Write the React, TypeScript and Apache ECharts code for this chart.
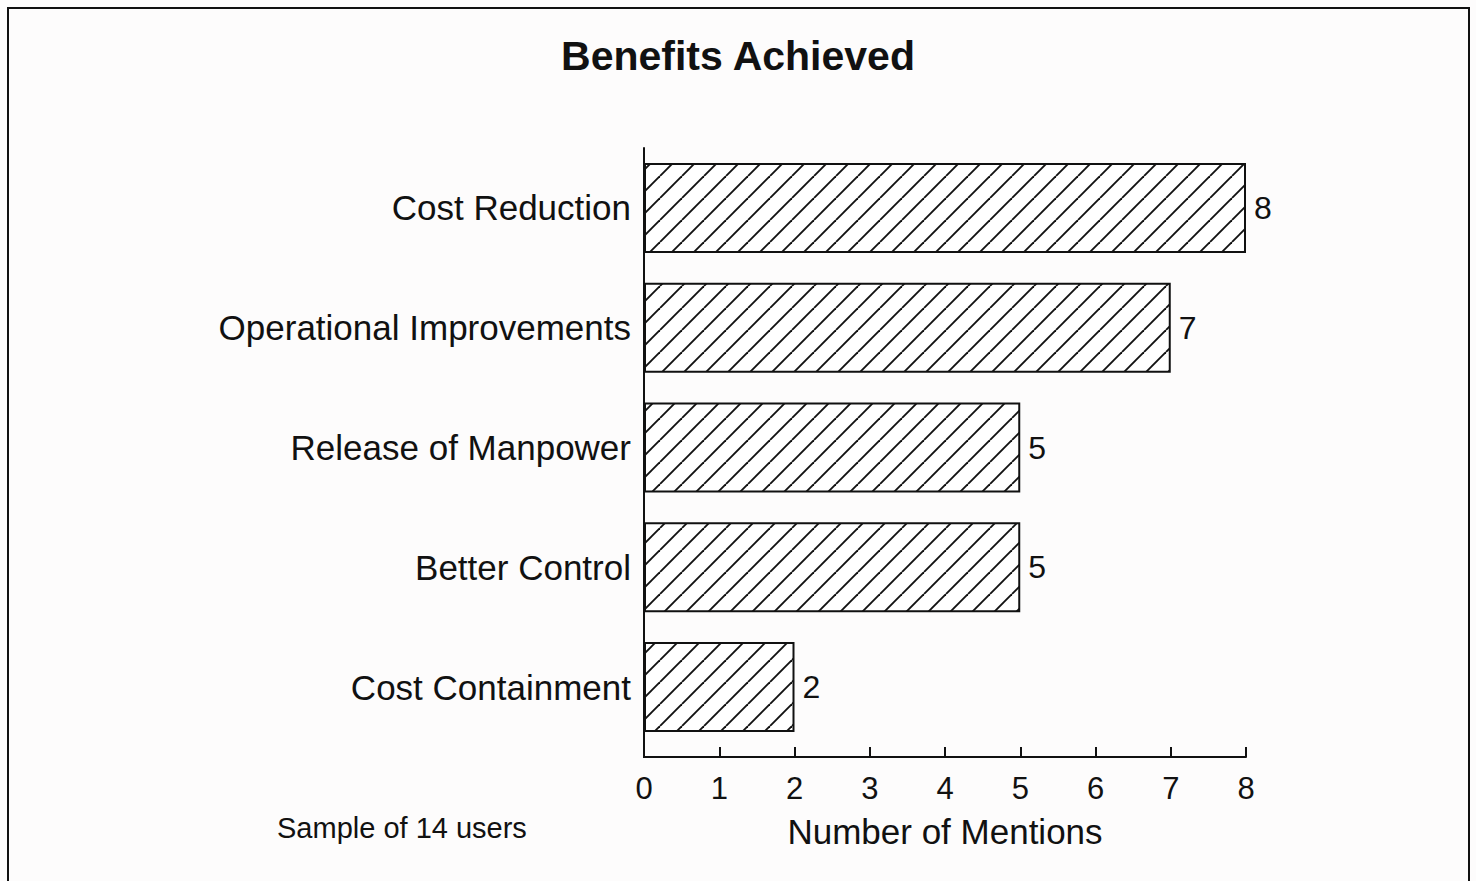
import React, { useEffect, useRef } from "react";
import * as echarts from "echarts";

const categories = [
  "Cost Reduction",
  "Operational Improvements",
  "Release of Manpower",
  "Better Control",
  "Cost Containment",
];
const mentions = [8, 7, 5, 5, 2];
const xTicks = { min: 0, max: 8, interval: 1 };
const titleText = "Benefits Achieved";
const xName = "Number of Mentions";
const noteText = "Sample of 14 users";

const W = 1476;
const H = 881;
const GRID_LEFT = 644;
const GRID_RIGHT = 230;
const GRID_TOP = 148;
const GRID_BOTTOM = 134;
const AXIS_OFFSET = 10;
const FONT = "'Liberation Sans', Arial, Helvetica, sans-serif";

function makeHatch(): HTMLCanvasElement {
  const S = 22;
  const c = document.createElement("canvas");
  c.width = S;
  c.height = S;
  const ctx = c.getContext("2d")!;
  ctx.fillStyle = "#ffffff";
  ctx.fillRect(0, 0, S, S);
  ctx.strokeStyle = "#111111";
  ctx.lineWidth = 1.9;
  for (const k of [-S, 0, S]) {
    ctx.beginPath();
    ctx.moveTo(k, S);
    ctx.lineTo(k + S, 0);
    ctx.stroke();
  }
  return c;
}

export default function App() {
  const ref = useRef<HTMLDivElement>(null);
  useEffect(() => {
    if (!ref.current) return;
    const chart = echarts.init(ref.current, null, { renderer: "svg" });
    const hatch = makeHatch();
    const axisBottomY = H - GRID_BOTTOM;
    chart.setOption({
      animation: false,
      backgroundColor: "#fdfcfc",
      textStyle: { fontFamily: FONT },
      title: {
        text: titleText,
        left: "center",
        top: 30,
        textStyle: { fontFamily: FONT, fontSize: 41, fontWeight: "bold", color: "#111" },
      },
      grid: { left: GRID_LEFT, right: GRID_RIGHT, top: GRID_TOP, bottom: GRID_BOTTOM },
      xAxis: {
        type: "value",
        min: xTicks.min,
        max: xTicks.max,
        interval: xTicks.interval,
        offset: AXIS_OFFSET,
        name: xName,
        nameLocation: "middle",
        nameGap: 57,
        nameTextStyle: { fontFamily: FONT, fontSize: 35, color: "#111" },
        axisLine: { show: true, lineStyle: { color: "#111", width: 2 } },
        axisTick: { show: true, inside: true, length: 10, lineStyle: { color: "#111", width: 2 } },
        axisLabel: { fontFamily: FONT, fontSize: 31, color: "#111", margin: 16 },
        splitLine: { show: false },
      },
      yAxis: {
        type: "category",
        data: categories,
        inverse: true,
        axisLine: { show: true, lineStyle: { color: "#111", width: 2 } },
        axisTick: { show: false },
        axisLabel: { fontFamily: FONT, fontSize: 35, color: "#111", margin: 13 },
      },
      series: [
        {
          type: "bar",
          data: mentions,
          barWidth: 90,
          itemStyle: {
            color: { image: hatch, repeat: "repeat" },
            borderColor: "#111",
            borderWidth: 2,
          },
          label: {
            show: true,
            position: "right",
            distance: 8,
            fontFamily: FONT,
            fontSize: 32,
            color: "#111",
          },
        },
      ],
      graphic: [
        {
          type: "rect",
          silent: true,
          shape: { x: 8, y: 8, width: 1461, height: 890 },
          style: { fill: "none", stroke: "#111", lineWidth: 2 },
        },
        {
          type: "line",
          silent: true,
          shape: { x1: GRID_LEFT, y1: axisBottomY - 1, x2: GRID_LEFT, y2: axisBottomY + AXIS_OFFSET + 1 },
          style: { stroke: "#111", lineWidth: 2 },
        },
        {
          type: "text",
          left: 277,
          top: 813,
          style: { text: noteText, fontFamily: FONT, fontSize: 29, fill: "#111" },
        },
      ],
    });
    return () => chart.dispose();
  }, []);
  return (
    <div
      ref={ref}
      style={{ position: "absolute", left: 0, top: 0, width: W, height: H }}
    />
  );
}
